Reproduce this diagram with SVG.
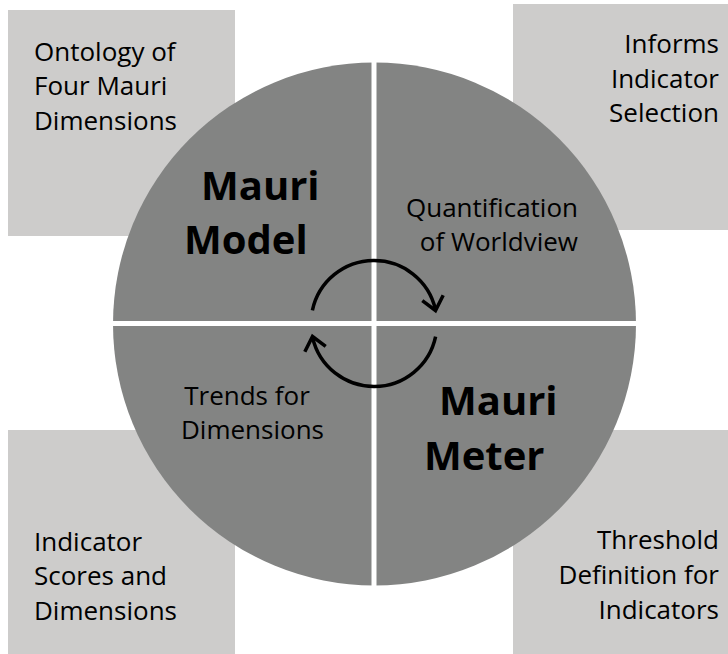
<svg xmlns="http://www.w3.org/2000/svg" width="728" height="654" viewBox="0 0 728 654">
<style>
.box{fill:#cdcccb}
.t{font-family:"Open Sans","Liberation Sans",sans-serif;font-size:26px;fill:#000}
.b{font-family:"Open Sans","Liberation Sans",sans-serif;font-size:40px;font-weight:bold;fill:#000}
.e{text-anchor:end}
.m{text-anchor:middle}
.arc{fill:none;stroke:#000;stroke-width:3.5}
</style>
<rect width="728" height="654" fill="#fff"/>
<g id="box-ontology">
<rect class="box" x="8" y="10" width="227" height="226"/>
<text class="t" x="34" y="60.5">Ontology of</text>
<text class="t" x="34" y="95">Four Mauri</text>
<text class="t" x="34" y="129.5">Dimensions</text>
</g>
<g id="box-informs">
<rect class="box" x="513" y="4" width="215" height="226"/>
<text class="t e" x="719" y="53">Informs</text>
<text class="t e" x="719" y="87.5">Indicator</text>
<text class="t e" x="719" y="122">Selection</text>
</g>
<g id="box-scores">
<rect class="box" x="8" y="430" width="227" height="224"/>
<text class="t" x="34" y="551">Indicator</text>
<text class="t" x="34" y="585">Scores and</text>
<text class="t" x="34" y="620">Dimensions</text>
</g>
<g id="box-threshold">
<rect class="box" x="513" y="430" width="215" height="224"/>
<text class="t e" x="719" y="549">Threshold</text>
<text class="t e" x="719" y="584">Definition for</text>
<text class="t e" x="719" y="619">Indicators</text>
</g>
<g id="circle">
<circle cx="374.5" cy="324" r="261.5" fill="#838483"/>
<line x1="374" y1="60" x2="374" y2="588" stroke="#fff" stroke-width="5"/>
<line x1="110" y1="323.5" x2="639" y2="323.5" stroke="#fff" stroke-width="5"/>
</g>
<g id="q-model">
<text class="b" x="201" y="200">Mauri</text>
<text class="b" x="184" y="254">Model</text>
</g>
<g id="q-quant">
<text class="t e" x="578" y="217">Quantification</text>
<text class="t e" x="578" y="250.5">of Worldview</text>
</g>
<g id="q-trends">
<text class="t m" x="247" y="405">Trends for</text>
<text class="t m" x="252.5" y="439">Dimensions</text>
</g>
<g id="q-meter">
<text class="b" x="439" y="415">Mauri</text>
<text class="b" x="424" y="470">Meter</text>
</g>
<g id="connectors">
<g id="cycle-top">
<path class="arc" d="M312.4 310.4 A63 63 0 0 1 435.4 309.3"/>
<path class="arc" d="M422.3 300.6 L435.5 310.5 L443.2 295.3"/>
</g>
<g id="cycle-bottom" transform="rotate(180 374 323.5)">
<path class="arc" d="M312.4 310.4 A63 63 0 0 1 435.4 309.3"/>
<path class="arc" d="M422.3 300.6 L435.5 310.5 L443.2 295.3"/>
</g>
</g>
</svg>
